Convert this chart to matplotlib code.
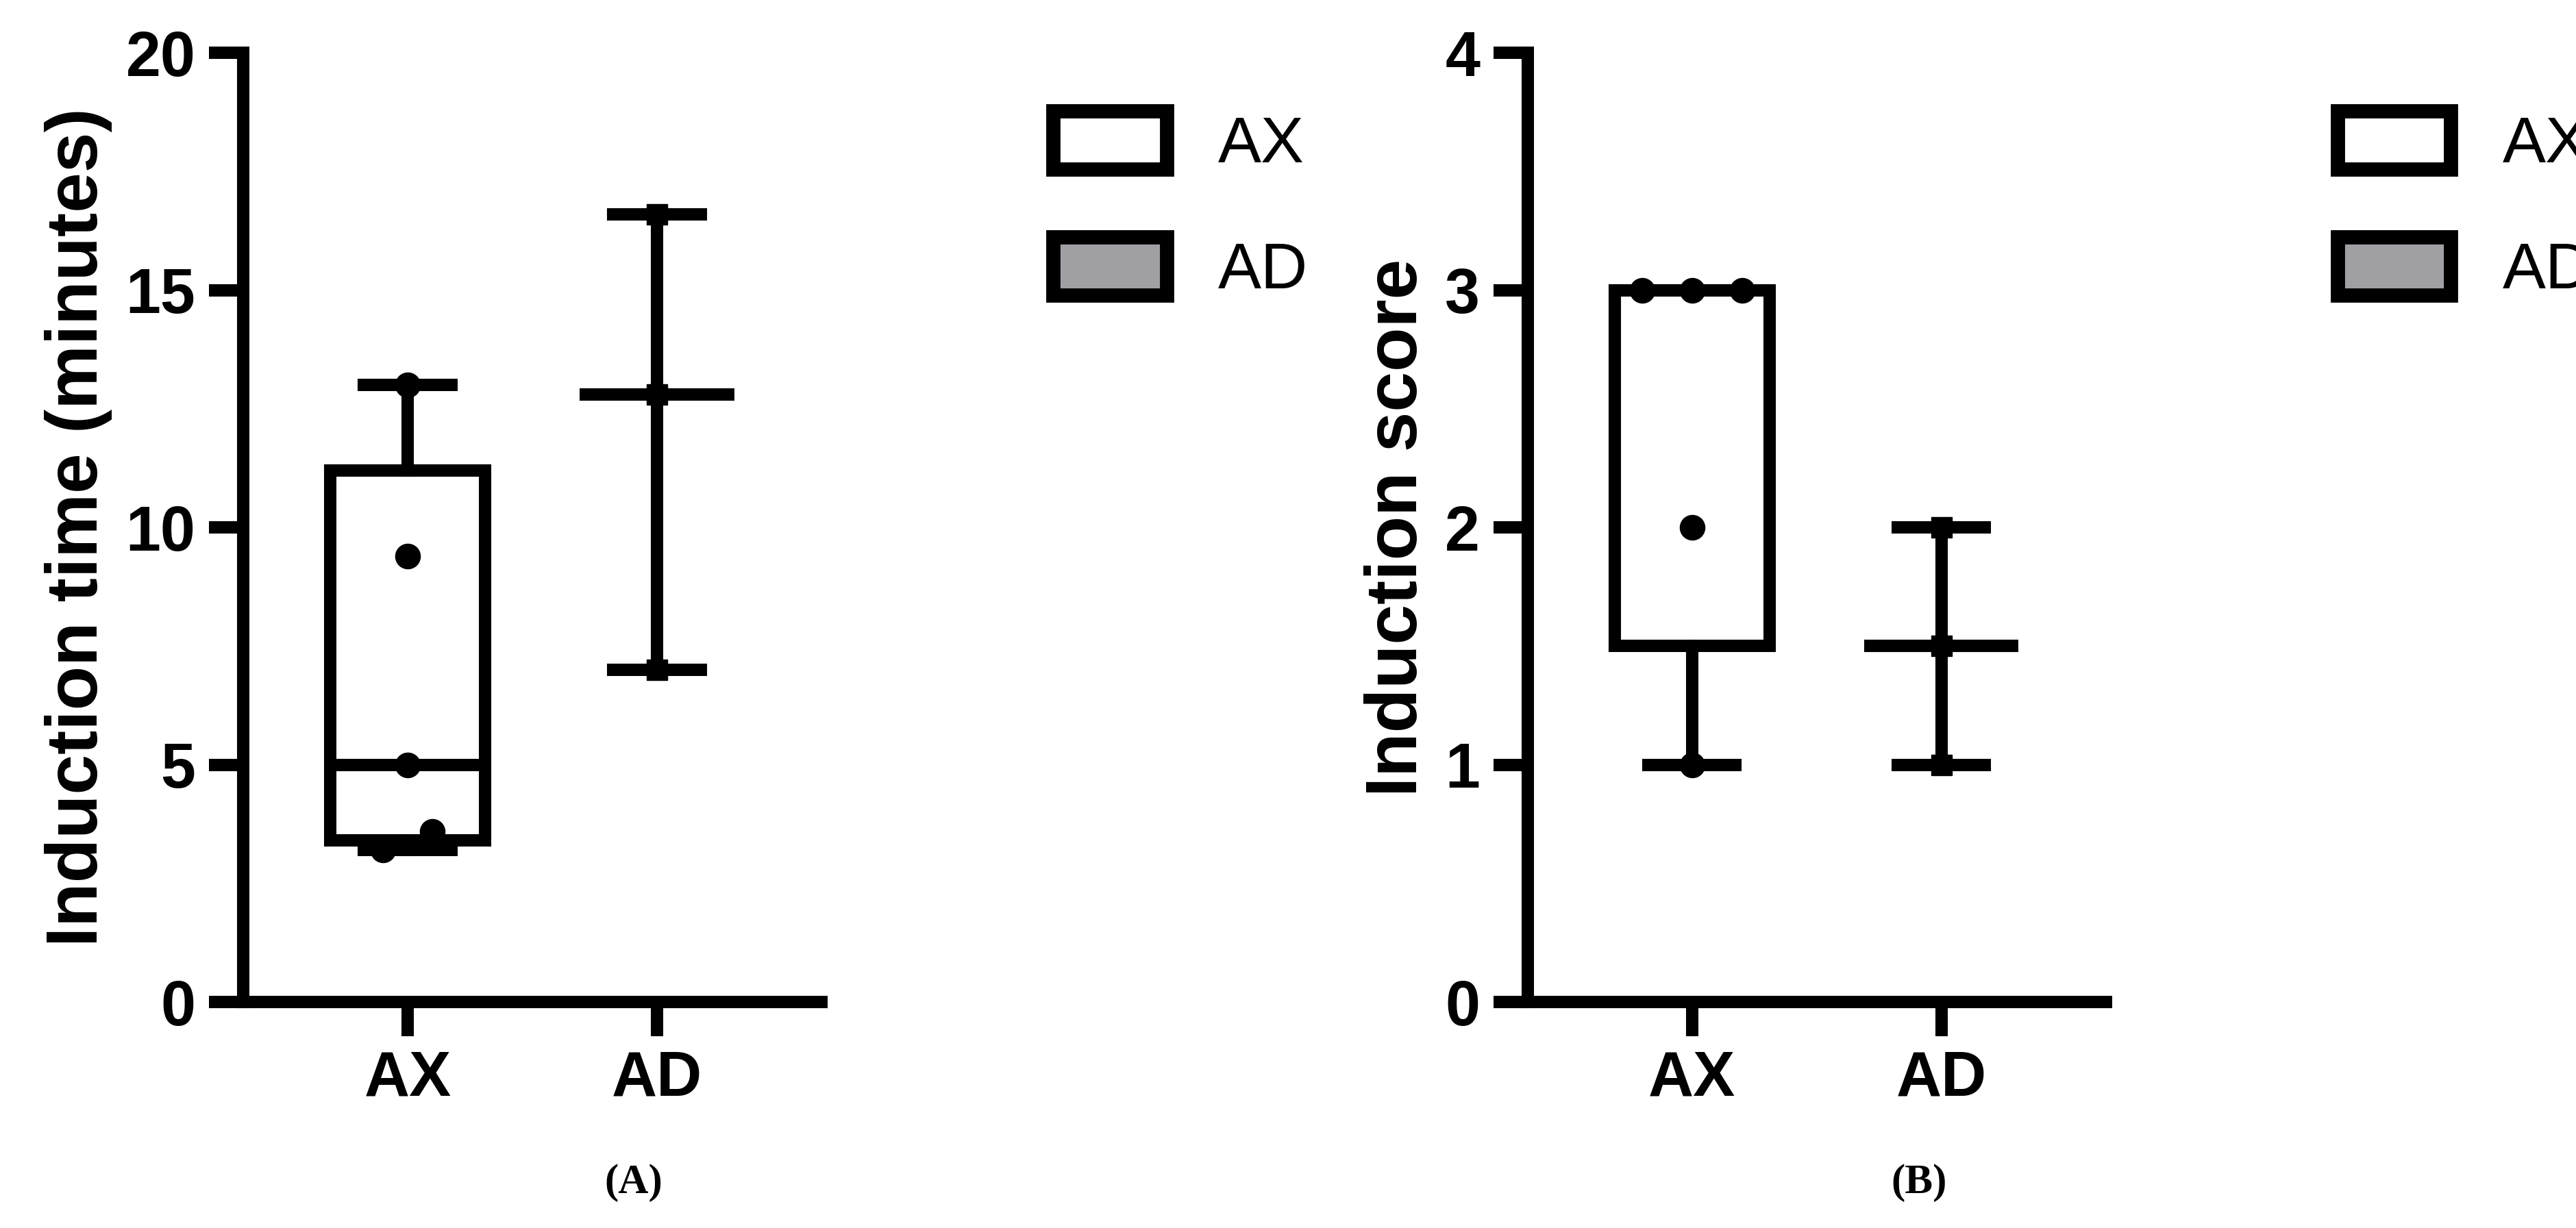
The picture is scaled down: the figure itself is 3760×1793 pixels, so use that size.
import numpy as np
import matplotlib.pyplot as plt
from matplotlib.patches import Patch

groups = ["AX", "AD"]
time_ax = [3.2, 3.6, 5.0, 9.4, 13.0]
time_ad = [7.0, 12.8, 16.6]
score_ax = [1, 2, 3, 3, 3]
score_ad = [1, 1.5, 2]
# horizontal scatter offsets of the dots
time_ax_dx = [-0.1, 0.1, 0, 0, 0]
score_ax_dx = [0, 0, -0.2, 0, 0.2]

plt.rcParams["font.family"] = ["Liberation Sans", "DejaVu Sans"]
LW = 13


def box_stats(vals, with_box=True):
    v = np.array(vals, float)
    med = np.median(v)
    if with_box:
        q1, q3 = np.percentile(v, [25, 75], method="weibull")
    else:
        q1 = q3 = med
    return dict(med=med, q1=q1, q3=q3, whislo=v.min(), whishi=v.max(), fliers=[])


def panel(ax, ax_vals, ad_vals, ax_dx, ymax, ystep, ylabel):
    stats = [box_stats(ax_vals), box_stats(ad_vals, with_box=False)]
    ax.bxp(stats, positions=[0, 1], widths=0.62, showfliers=False, patch_artist=True,
           boxprops=dict(facecolor="white", edgecolor="black", linewidth=LW),
           medianprops=dict(color="black", linewidth=LW),
           whiskerprops=dict(color="black", linewidth=LW),
           capprops=dict(color="black", linewidth=LW), capwidths=0.35,
           zorder=2)
    ax.plot(np.array(ax_dx), ax_vals, "o", color="black", ms=26, zorder=3)
    ax.plot(np.ones(len(ad_vals)), ad_vals, "s", color="black", ms=22, zorder=3)
    ax.set_xlim(-0.66, 1.66)
    ax.set_ylim(0, ymax)
    ax.set_yticks(np.arange(0, ymax + 0.01, ystep))
    ax.set_xticks([0, 1])
    ax.set_xticklabels(groups)
    for s in ["top", "right"]:
        ax.spines[s].set_visible(False)
    for s in ["left", "bottom"]:
        ax.spines[s].set_linewidth(LW)
    ax.tick_params(width=LW, length=36, labelsize=66, pad=14)
    for t in ax.get_xticklabels() + ax.get_yticklabels():
        t.set_fontweight("bold")
    ax.set_ylabel(ylabel, fontsize=76, fontweight="bold", labelpad=14)
    handles = [Patch(facecolor="white", edgecolor="black", linewidth=LW + 2),
               Patch(facecolor="#a0a0a4", edgecolor="black", linewidth=LW + 2)]
    ax.legend(handles, groups, loc="upper left", bbox_to_anchor=(1.3, 1.0),
              frameon=False, fontsize=68, handlelength=1.75, handleheight=1.0,
              labelspacing=0.95, handletextpad=0.8)


fig = plt.figure(figsize=(37.6, 17.93), dpi=100)
ax1 = fig.add_axes([0.0944, 0.184, 0.2245, 0.773])
ax2 = fig.add_axes([0.593, 0.184, 0.2245, 0.773])
panel(ax1, time_ax, time_ad, time_ax_dx, 20, 5, "Induction time (minutes)")
panel(ax2, score_ax, score_ad, score_ax_dx, 4, 1, "Induction score")
fig.text(0.246, 0.037, "(A)", ha="center", va="center", fontsize=44,
         family="Liberation Serif", fontweight="bold")
fig.text(0.745, 0.037, "(B)", ha="center", va="center", fontsize=44,
         family="Liberation Serif", fontweight="bold")
fig.savefig("out.png", dpi=100)
